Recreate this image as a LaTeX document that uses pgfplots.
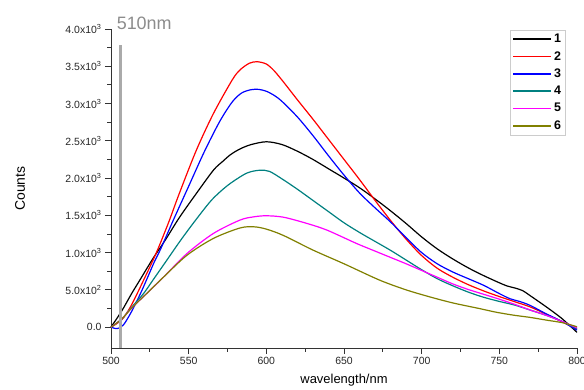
\documentclass[border=0pt]{standalone}
\usepackage{fontspec}
\setmainfont{Liberation Sans}
\usepackage{pgfplots}
\pgfplotsset{compat=1.18}
\definecolor{cteal}{RGB}{0,128,128}
\definecolor{colive}{RGB}{128,128,0}
\definecolor{cmag}{RGB}{255,0,255}
\begin{document}
\begin{tikzpicture}
\begin{axis}[
 at={(0,0)}, anchor=south west,
 scale only axis, width=466bp, height=319bp,
 xmin=500, xmax=800, ymin=-280, ymax=4000,
 axis x line*=bottom, axis y line*=left,
 axis line style={black!80, line width=0.8bp},
 xtick={500,550,...,800}, minor x tick num=1,
 ytick={0,500,...,4000}, minor y tick num=1,
 yticklabels={0.0, 5.0x10\textsuperscript{2}, 1.0x10\textsuperscript{3}, 1.5x10\textsuperscript{3}, 2.0x10\textsuperscript{3}, 2.5x10\textsuperscript{3}, 3.0x10\textsuperscript{3}, 3.5x10\textsuperscript{3}, 4.0x10\textsuperscript{3}},
 tick align=outside, major tick length=6bp, minor tick length=3.5bp,
 tick style={black!80, line width=0.8bp},
 tick label style={font=\fontsize{10.5}{12}\selectfont, text=black!85},
 /pgf/number format/assume math mode=true,
 xlabel={wavelength/nm}, ylabel={Counts},
 xlabel style={at={(axis description cs:0.5,-0.10)}, anchor=center, font=\fontsize{13}{15}\selectfont},
 ylabel style={at={(axis description cs:-0.195,0.5)}, anchor=center, font=\fontsize{14}{16}\selectfont},
 clip=false,
 legend style={at={(rel axis cs:0.975,0.997)}, anchor=north east, draw=gray!40, font=\bfseries\fontsize{12.5}{13}\selectfont, row sep=3.2bp, inner sep=2bp},
 legend cell align=left,
 legend image code/.code={\draw[#1, line width=1.8bp] (0bp,0bp) -- (38bp,0bp);},
 every axis plot/.append style={line width=1.2bp, smooth, no markers},
]
\addplot[black] coordinates {(500,0) (507,220) (513,440) (520,680) (527,920) (535,1170) (544,1470) (555,1795) (566,2107) (572,2225) (577,2315) (583,2390) (590,2448) (600,2487) (610,2450) (620,2360) (630,2250) (640,2125) (650,2000) (660,1870) (670,1720) (680,1560) (690,1390) (700,1210) (710,1050) (720,915) (730,795) (740,690) (750,595) (755,552) (760,525) (765,490) (770,420) (780,275) (790,120) (800,-70)};
\addlegendentry{1}
\addplot[red] coordinates {(500,0) (507,100) (513,290) (521,631) (529,989) (537,1400) (544,1795) (555,2376) (566,2868) (578,3315) (583,3450) (589,3540) (594,3561) (600,3530) (605,3440) (611,3290) (620,3050) (630,2790) (640,2520) (650,2250) (660,1980) (670,1700) (680,1430) (690,1180) (700,960) (710,790) (720,670) (730,570) (740,485) (750,410) (760,340) (770,270) (780,175) (790,75) (800,-30)};
\addlegendentry{2}
\addplot[blue] coordinates {(500,0) (504,-20) (508,30) (513,200) (519,452) (523,640) (528,880) (532,1050) (540,1430) (550,1890) (560,2350) (570,2760) (578,3020) (584,3140) (590,3185) (595,3190) (600,3165) (605,3110) (610,3030) (620,2820) (630,2570) (640,2300) (650,2040) (660,1800) (670,1600) (680,1410) (690,1200) (700,1000) (710,850) (720,740) (730,650) (740,560) (750,450) (757,380) (763,345) (770,290) (780,180) (790,80) (800,-40)};
\addlegendentry{3}
\addplot[cteal] coordinates {(500,0) (507,110) (513,260) (521,452) (527,631) (535,870) (545,1170) (555,1450) (565,1710) (575,1900) (585,2040) (590,2085) (596,2105) (602,2090) (610,1990) (620,1850) (630,1700) (640,1550) (650,1400) (660,1270) (670,1150) (680,1030) (690,900) (700,770) (710,650) (720,555) (730,470) (740,400) (750,345) (760,295) (770,228) (780,160) (790,80) (800,-20)};
\addlegendentry{4}
\addplot[cmag] coordinates {(500,0) (507,110) (513,250) (523,452) (534,675) (549,989) (566,1258) (583,1436) (592,1480) (600,1494) (611,1475) (626,1392) (639,1302) (658,1123) (670,1020) (680,935) (690,850) (700,760) (710,670) (720,580) (730,505) (740,440) (750,375) (760,305) (770,228) (780,160) (790,80) (800,-10)};
\addlegendentry{5}
\addplot[colive] coordinates {(500,0) (507,110) (513,250) (523,452) (534,675) (549,966) (566,1191) (583,1330) (592,1346) (600,1315) (611,1230) (630,1034) (650,850) (673,630) (690,500) (705,407) (720,325) (737,250) (748,200) (759,161) (770,130) (780,95) (791,58) (800,5)};
\addlegendentry{6}
\addplot[forget plot, color={rgb,255:red,170;green,170;blue,170}, line width=2.5bp, sharp plot] coordinates {(506,-280) (506,3780)};
\node[anchor=base west, text={rgb,255:red,140;green,140;blue,140}, font=\fontsize{18}{20}\selectfont, inner sep=0pt] at (axis cs:503.6,3990) {510nm};
\end{axis}
\pgfresetboundingbox
\path[use as bounding box] (-111bp,-42bp) rectangle (473bp,348bp);
\end{tikzpicture}
\end{document}
